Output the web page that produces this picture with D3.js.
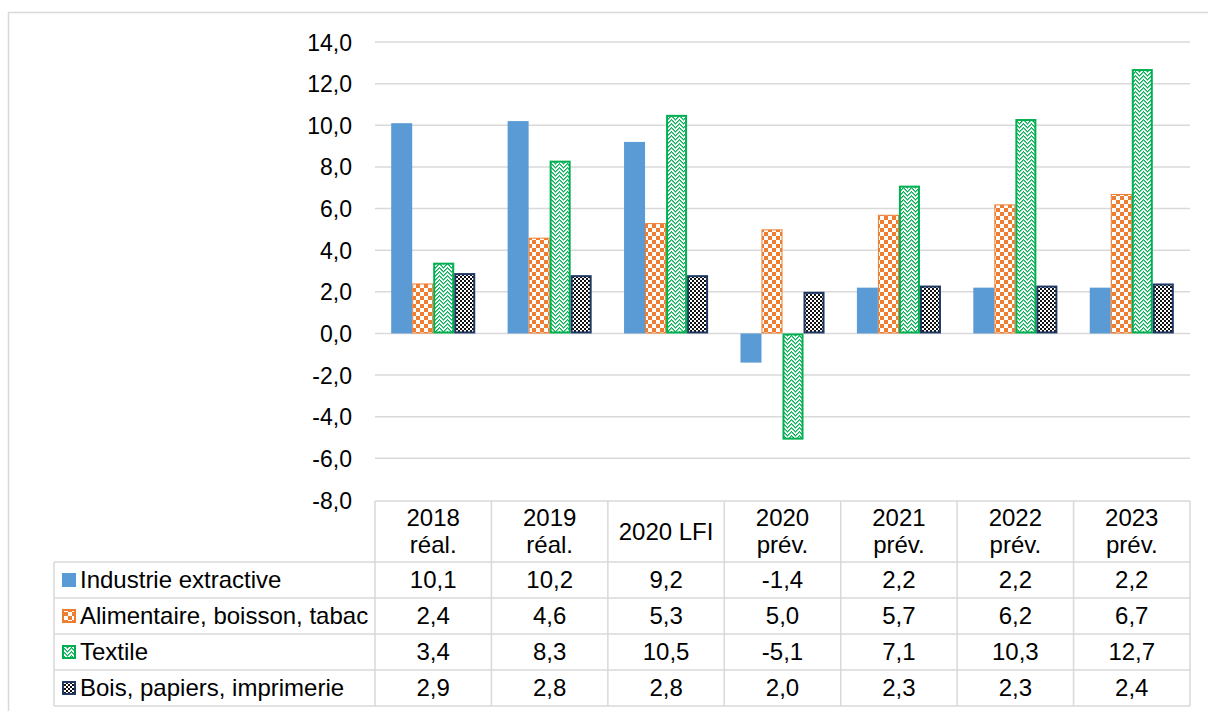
<!DOCTYPE html>
<html><head><meta charset="utf-8">
<script src="https://cdn.jsdelivr.net/npm/d3@7"></script>
<style>body{margin:0;background:#fff}svg{display:block}text{font-family:"Liberation Sans",Arial,sans-serif;fill:#000}</style>
</head><body><svg id="c" width="1208" height="711"></svg>
<script>
const categories = [["2018","réal."],["2019","réal."],["2020 LFI"],["2020","prév."],["2021","prév."],["2022","prév."],["2023","prév."]];
const seriesNames = ["Industrie extractive","Alimentaire, boisson, tabac","Textile","Bois, papiers, imprimerie"];
const industrie = [10.1,10.2,9.2,-1.4,2.2,2.2,2.2];
const alimentaire = [2.4,4.6,5.3,5.0,5.7,6.2,6.7];
const textile = [3.4,8.3,10.5,-5.1,7.1,10.3,12.7];
const bois = [2.9,2.8,2.8,2.0,2.3,2.3,2.4];
const yTicks = [-8,-6,-4,-2,0,2,4,6,8,10,12,14];

const seriesValues = [industrie, alimentaire, textile, bois];
const catKeys = categories.map(c => c.join(" "));
const fmt = v => d3.format(".1f")(v).replace(".", ",").replace("−","-");

const svg = d3.select("#c");
const defs = svg.append("defs");
// orange large checkerboard
const pO = defs.append("pattern").attr("id","pO").attr("width",8).attr("height",8).attr("patternUnits","userSpaceOnUse");
pO.append("rect").attr("width",8).attr("height",8).attr("fill","#ED7D31");
pO.append("rect").attr("width",4).attr("height",4).attr("fill","#fff");
pO.append("rect").attr("x",4).attr("y",4).attr("width",4).attr("height",4).attr("fill","#fff");
// green zigzag weave
const pG = defs.append("pattern").attr("id","pG").attr("width",8).attr("height",8).attr("patternUnits","userSpaceOnUse");
pG.append("rect").attr("width",8).attr("height",8).attr("fill","#fff");
[[0,0],[1,1],[2,2],[3,3],[4,2],[5,1],[6,0],[7,7],[0,4],[1,5],[2,6],[6,4],[5,5],[4,6],[3,7],[7,3]].forEach(([x,y])=>{
  pG.append("rect").attr("x",x).attr("y",y).attr("width",1).attr("height",1).attr("fill","#00B050");
  pG.append("rect").attr("x",x).attr("y",(y+1)%8).attr("width",1).attr("height",1).attr("fill","#00B050").attr("opacity",0.6);
});
// navy small checkerboard
const pN = defs.append("pattern").attr("id","pN").attr("width",4).attr("height",4).attr("patternUnits","userSpaceOnUse");
pN.append("rect").attr("width",4).attr("height",4).attr("fill","#fff");
pN.append("rect").attr("width",2).attr("height",2).attr("fill","#111");
pN.append("rect").attr("x",2).attr("y",2).attr("width",2).attr("height",2).attr("fill","#111");

const fills = ["#5B9BD5","url(#pO)","url(#pG)","url(#pN)"];
const strokes = ["none","#ED7D31","#00B050","#1F3864"];
const strokeW = [0,1,2,2];

// outer frame
svg.append("rect").attr("x",8.5).attr("y",12.5).attr("width",1300).attr("height",800).attr("fill","none").attr("stroke","#d9d9d9").attr("stroke-width",1.5);

const y = d3.scaleLinear().domain([-8,14]).range([500,42]);
const x0 = d3.scaleBand().domain(catKeys).range([375,1190]).padding(0);
const x1 = d3.scaleBand().domain(d3.range(4)).range([0,x0.bandwidth()]).paddingInner(0).paddingOuter(0.77);

// gridlines
svg.append("g").selectAll("line").data(yTicks.filter(t=>t>-8)).join("line")
  .attr("x1",375).attr("x2",1190).attr("y1",d=>y(d)).attr("y2",d=>y(d))
  .attr("stroke","#d9d9d9").attr("stroke-width",1.5);

// y labels
const yAxis = d3.axisLeft(y).tickValues(yTicks).tickFormat(fmt).tickSize(0).tickPadding(0);
const ga = svg.append("g").attr("transform","translate(352,0)").call(yAxis);
ga.select(".domain").remove();
ga.selectAll("text").style("font-size","23px").attr("dy","0.35em").attr("font-family",null).style("font-family","'Liberation Sans',Arial,sans-serif").attr("fill","#000");

// bars
seriesValues.forEach((vals,si)=>{
  svg.append("g").selectAll("rect").data(vals).join("rect")
    .attr("x",(d,i)=>x0(catKeys[i])+x1(si)+strokeW[si]/2)
    .attr("width",x1.bandwidth()-strokeW[si])
    .attr("y",d=>Math.min(y(d),y(0))+strokeW[si]/2)
    .attr("height",d=>Math.max(0,Math.abs(y(d)-y(0))-strokeW[si]))
    .attr("fill",fills[si]).attr("stroke",strokes[si]).attr("stroke-width",strokeW[si]);
});

// table
const tg = svg.append("g");
const rowTops = [562,598,634,670,706];
const lc = "#d9d9d9";
const fs = "24px";
tg.append("line").attr("x1",375).attr("x2",1190).attr("y1",501).attr("y2",501).attr("stroke",lc).attr("stroke-width",1.5);
rowTops.forEach(r=>tg.append("line").attr("x1",54).attr("x2",1190).attr("y1",r).attr("y2",r).attr("stroke",lc).attr("stroke-width",1.5));
tg.append("line").attr("x1",54).attr("x2",54).attr("y1",562).attr("y2",706).attr("stroke",lc).attr("stroke-width",1.5);
catKeys.concat(["end"]).forEach((k,i)=>{
  const xx = i<catKeys.length ? x0(k) : 1190;
  tg.append("line").attr("x1",xx).attr("x2",xx).attr("y1",501).attr("y2",706).attr("stroke",lc).attr("stroke-width",1.5);
});
// header text
categories.forEach((c,i)=>{
  const cx = x0(catKeys[i]) + x0.bandwidth()/2;
  const t = tg.append("text").attr("text-anchor","middle").style("font-size",fs);
  if (c.length===2){
    t.append("tspan").attr("x",cx).attr("y",526).text(c[0]);
    t.append("tspan").attr("x",cx).attr("y",553).text(c[1]);
  } else {
    t.append("tspan").attr("x",cx).attr("y",540).text(c[0]);
  }
});
// rows
seriesValues.forEach((vals,si)=>{
  const ty = rowTops[si] + 26;
  vals.forEach((v,i)=>{
    tg.append("text").attr("x",x0(catKeys[i])+x0.bandwidth()/2).attr("y",ty).attr("text-anchor","middle").style("font-size",fs).text(fmt(v));
  });
  tg.append("rect").attr("x",62+ (strokeW[si]?1:0)).attr("y",rowTops[si]+11+(strokeW[si]?1:0)).attr("width",14-(strokeW[si]?2:0)).attr("height",14-(strokeW[si]?2:0))
    .attr("fill",fills[si]).attr("stroke",strokes[si]).attr("stroke-width",strokeW[si]?2:0);
  tg.append("text").attr("x",80).attr("y",ty).style("font-size",fs).text(seriesNames[si]);
});
</script></body></html>
